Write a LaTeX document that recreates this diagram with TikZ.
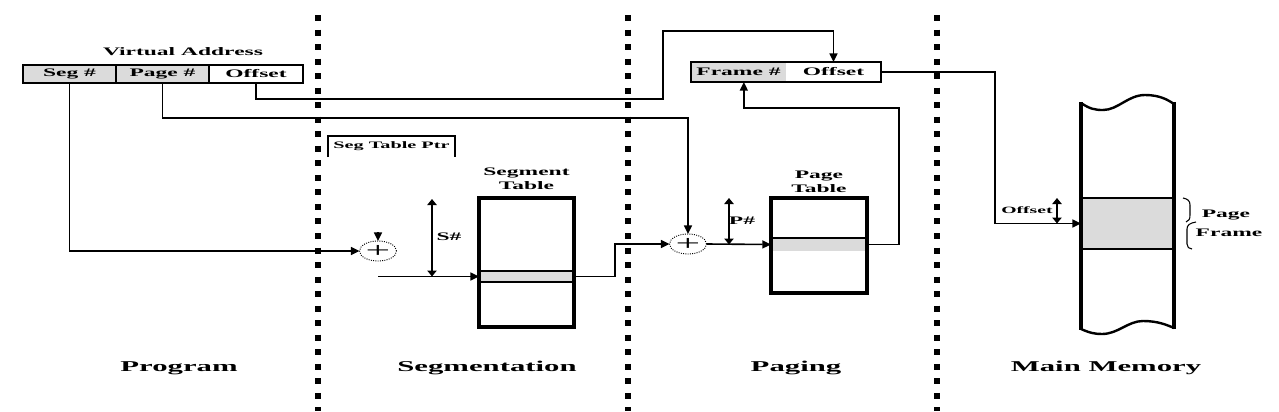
\documentclass[tikz,border=0pt]{standalone}
\usepackage{fontspec}
\setmainfont{Liberation Serif}[FakeStretch=2.05]
\usetikzlibrary{arrows.meta,positioning,shapes.geometric}

\definecolor{cellgray}{gray}{0.86}

\begin{document}
\begin{tikzpicture}[
    x=0.75pt, y=-0.75pt,
    every node/.style={font=\bfseries\fontsize{8.6}{10.5}\selectfont, inner sep=0pt, outer sep=0pt},
    field/.style={draw, line width=1.2pt, minimum height=13.5pt},
    tablebox/.style={draw, line width=2.8pt},
    rowcell/.style={fill=cellgray, draw, line width=0.9pt},
    adder/.style={
        ellipse,
        draw,
        densely dotted,
        line width=0.7pt,
        minimum width=27.75pt,
        minimum height=15pt
    },
    arrow/.style={-{Triangle[length=6.5pt,width=6pt]}, line width=1.2pt},
    dblarrow/.style={{Triangle[length=4.5pt,width=7pt]}-{Triangle[length=4.5pt,width=7pt]}, line width=1.4pt},
    divider/.style={line width=4.5pt, dash pattern=on 4.5pt off 6.4pt},
    sectionlbl/.style={font=\bfseries\fontsize{11.25}{12}\selectfont, anchor=base}
]
\useasboundingbox (0,0) rectangle (1279,411);

% Section dividers
\foreach \x in {318,628,937}
    \draw[divider] (\x,15) -- (\x,411);

% Virtual address
\node[field, fill=cellgray, minimum width=69.75pt] (vaseg) at (69.5,74) {Seg \#};
\node[field, fill=cellgray, minimum width=69.75pt, right=0pt of vaseg] (vapage) {Page \#};
\node[field, minimum width=70.5pt, right=0pt of vapage] (vaoff) {Offset};
\node[anchor=base] (valbl) at (183,55) {Virtual Address};

% Segment table pointer
\node[minimum width=95.25pt, minimum height=15.75pt,
      font=\bfseries\fontsize{7.4}{8}\selectfont] (segptr) at (391.5,146.5) {Seg Table Ptr};
\draw[line width=1pt] (segptr.south west) |- (segptr.north east) -- (segptr.south east);

% Adders
\node[adder] (addseg) at (378,251) {\mdseries\fontsize{16}{16}\selectfont +};
\node[adder] (addpage) at (688,244) {\mdseries\fontsize{16}{16}\selectfont +};

% Segment table
\node[rowcell, minimum width=71.25pt, minimum height=8.25pt] (segrow) at (526.5,276.5) {};
\node[tablebox, minimum width=71.25pt, minimum height=96.75pt] (segtab) at (526.5,262.5) {};
\node[align=center, above=6pt of segtab] (segtablbl) {Segment\\Table};

% Page table
\node[fill=cellgray, minimum width=72pt, minimum height=9.75pt] (pagerow) at (819,244.5) {};
\draw[line width=0.9pt] (pagerow.north west) -- (pagerow.north east);
\node[tablebox, minimum width=72pt, minimum height=71.25pt] (pagetab) at (819,245.5) {};
\node[align=center, above=4pt of pagetab] (pagetablbl) {Page\\Table};

% Real address
\node[fill=cellgray, minimum width=71.25pt, minimum height=15pt] (frnum) at (738.5,72) {Frame \#};
\node[minimum width=71.25pt, minimum height=15pt, right=0pt of frnum] (froff) {Offset};
\draw[line width=1.2pt] (frnum.north west) rectangle (froff.south east);

% Main memory
\node[rowcell, minimum width=69.75pt, minimum height=38.25pt] (memframe) at (1127.5,223.5) {};
\draw[line width=3pt] (1081,102) -- (1081,330);
\draw[line width=3pt] (1174,102) -- (1174,329);
\draw[line width=1.8pt] (1081,103) .. controls (1090,109) and (1095,110) .. (1103,110)
    .. controls (1118,110) and (1128,95) .. (1145,95)
    .. controls (1160,95) and (1168,100) .. (1174,104);
\draw[line width=1.8pt] (1081,329) .. controls (1090,333) and (1095,334) .. (1102,334)
    .. controls (1118,334) and (1128,321) .. (1143,321)
    .. controls (1158,321) and (1167,325) .. (1174,328);

% Page frame brace
\draw[line width=0.8pt] (1183,198) .. controls (1188,199) and (1190,201) .. (1190,205)
    -- (1190,215) .. controls (1190,219) and (1189,221) .. (1186,222);
\draw[line width=0.8pt] (1196,222) .. controls (1190,223) and (1187,225) .. (1187,229)
    -- (1187,244) .. controls (1187,247) and (1189,249) .. (1192,249);
\node[anchor=base] (pglbl) at (1226,217) {Page};
\node[anchor=base] (frlbl) at (1229,236) {Frame};

% Offset within frame
\coordinate (moff) at (1057,198);
\draw[dblarrow] (moff) -- (moff |- memframe);
\node[anchor=base, font=\bfseries\fontsize{7.2}{8}\selectfont] (mofflbl) at (1027,213) {Offset};

% Table index offsets
\coordinate (snum) at (432,199);
\draw[dblarrow] (snum) -- (snum |- segrow);
\node[anchor=base] (snumlbl) at (449,240) {S\#};

\coordinate (pnum) at (729,198);
\draw[dblarrow] (pnum) -- (pnum |- pagerow);
\node[anchor=base] (pnumlbl) at (742,224) {P\#};

% Connectors
\draw[arrow] (vaseg.south) |- (addseg.west);
\draw[arrow] (vapage.south) -- ++(0,35) -| (addpage.north);
\draw[arrow] (vaoff.south) -- ++(0,16) -| (663,31) -| (froff.north);

\coordinate (ptrtip) at (378,232);
\draw[arrow] (ptrtip) -- (addseg.north);

\coordinate (segin) at (addseg |- segrow);
\draw[arrow] (segin) -- (segrow.west);

\draw[arrow] (segrow.east) -- ++(41,0) |- (addpage.west);
\draw[arrow] (addpage.east) -- (pagerow.west);
\draw[arrow] (pagerow.east) -- ++(32,0) |- ([xshift=4pt,yshift=-19.5pt]frnum.south)
    -- ([xshift=4pt]frnum.south);
\draw[arrow] (froff.east) -- ++(114,0) |- (memframe.west);

% Section labels
\node[sectionlbl] (progl) at (179,371) {Program};
\node[sectionlbl] (segl) at (487,371) {Segmentation};
\node[sectionlbl] (pagl) at (796,371) {Paging};
\node[sectionlbl] (meml) at (1106,371) {Main Memory};

\end{tikzpicture}
\end{document}
